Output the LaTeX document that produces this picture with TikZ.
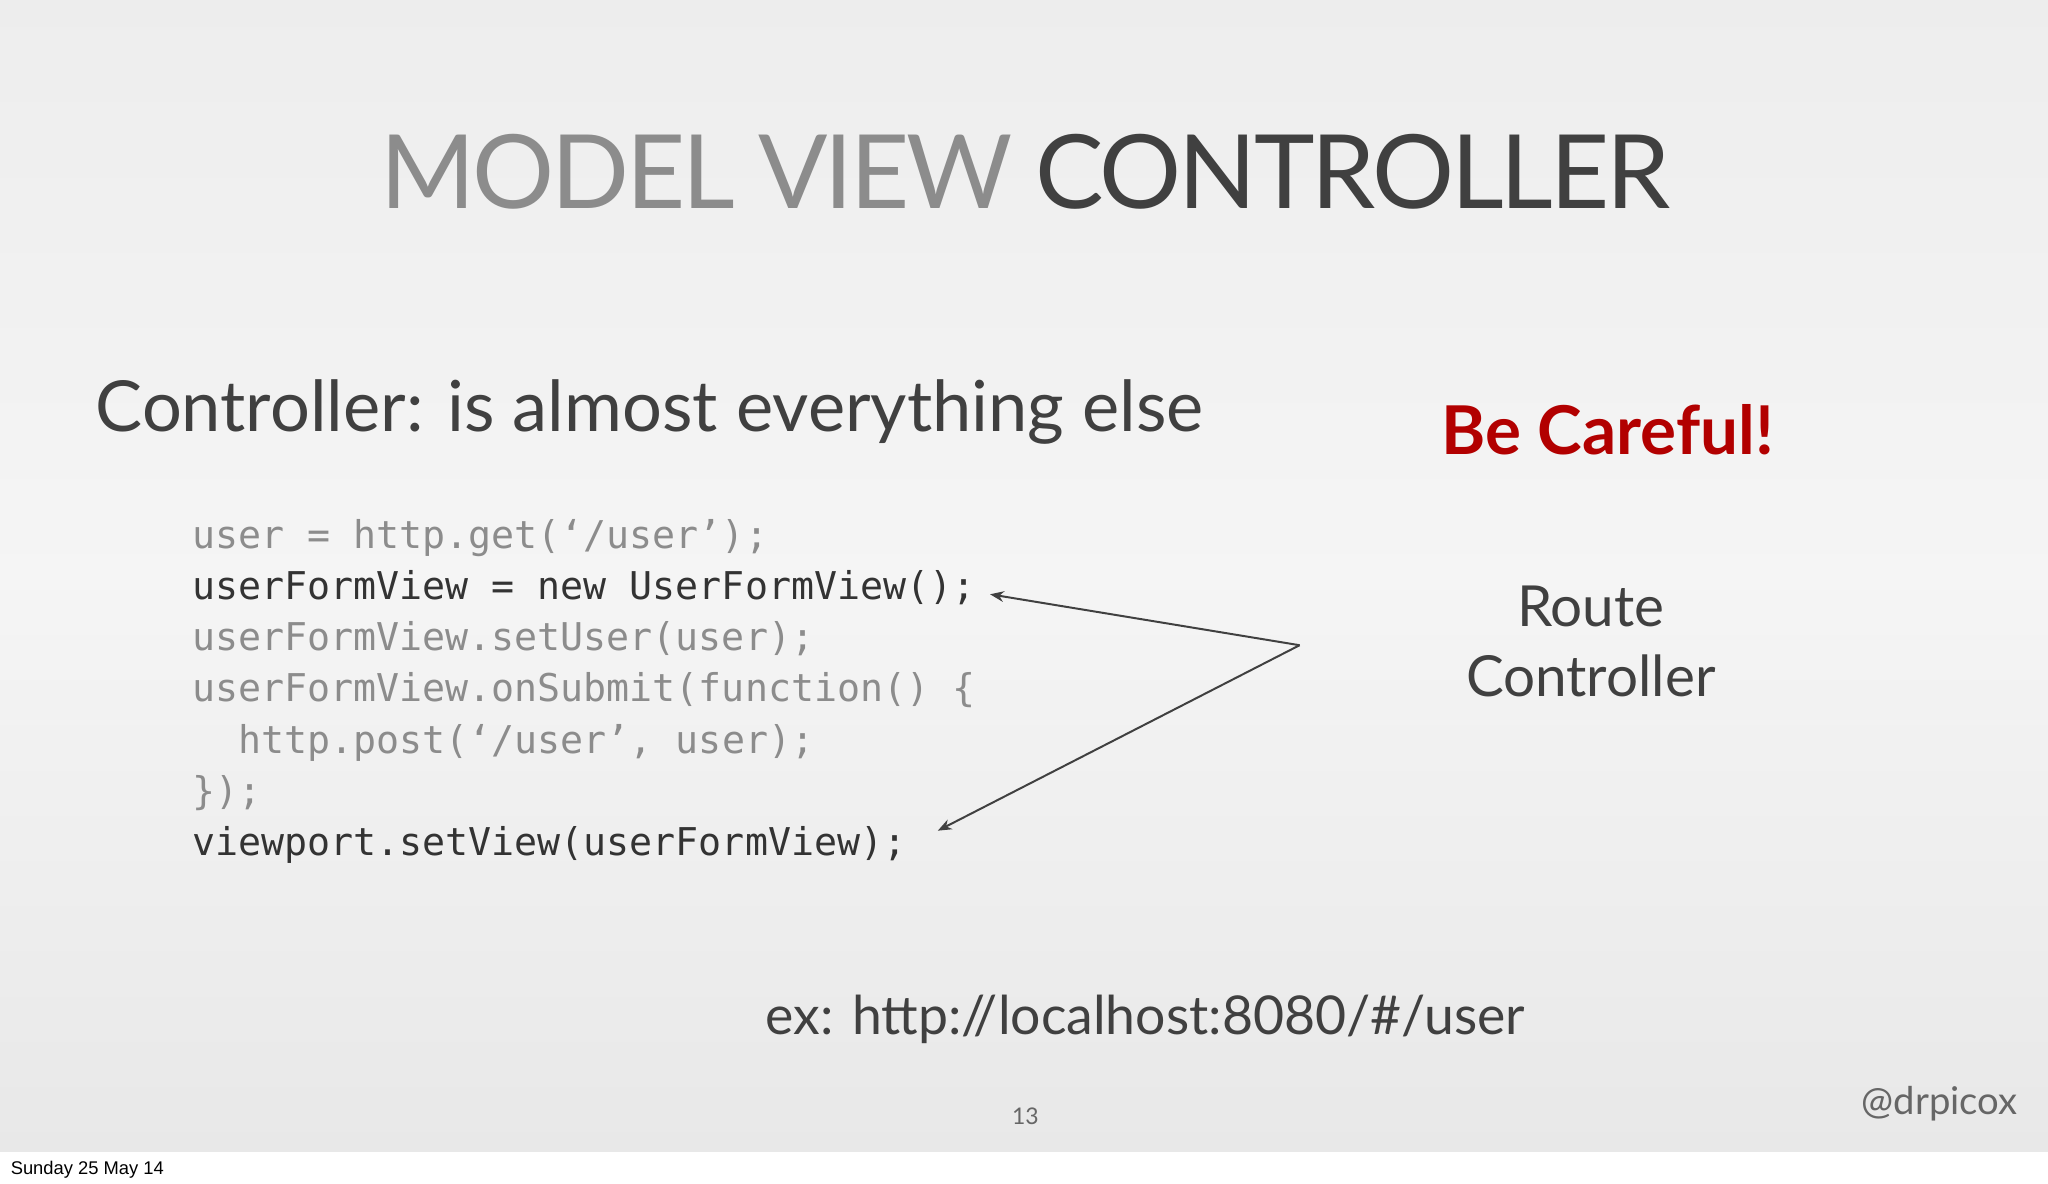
\documentclass[tikz,border=0pt]{standalone}
\usepackage{fontspec}
\setmainfont{Lato}
\setmonofont{DejaVu Sans Mono}
\newfontfamily\datefont{Liberation Sans}
\usetikzlibrary{arrows.meta}
\begin{document}
\begin{tikzpicture}[x=0.03cm,y=-0.03cm,
  code/.style={anchor=base west,inner sep=0,font=\fontsize{25}{28}\selectfont\ttfamily},
  lt/.style={text=black!45},
  dk/.style={text=black!80},
  arr/.style={draw=black!75,line width=1.3pt,-{Stealth[length=9pt,width=7pt]}}]
\fill[top color=black!7,bottom color=black!9,middle color=black!4] (0,0) rectangle (1568,882);
\fill[white] (0,882) rectangle (1568,906);
\useasboundingbox (0,0) rectangle (1568,906);
\node[anchor=base,inner sep=0,font=\fontsize{67}{80}\selectfont\addfontfeature{LetterSpace=-3}] (title) at (785,160) {\textcolor{black!45}{MODEL VIEW} \textcolor{black!75}{CONTROLLER}};
\node[anchor=base west,inner sep=0,text=black!75,font=\fontsize{46}{56}\selectfont] (sub) at (73,330) {Controller: is almost everything else};
\node[code,lt] (c1) at (147,420) {user = http.get(‘/user’);};
\node[code,dk] (c2) at (147,459) {userFormView = new UserFormView();};
\node[code,lt] (c3) at (147,498) {userFormView.setUser(user);};
\node[code,lt] (c4) at (147,537) {userFormView.onSubmit(function() \{};
\node[code,lt] (c5) at (147,577) {\ \ http.post(‘/user’, user);};
\node[code,lt] (c6) at (147,616) {\});};
\node[code,dk] (c7) at (147,655) {viewport.setView(userFormView);};
\coordinate (p) at (995,494);
\coordinate (t1) at (758,455);
\coordinate (t2) at (718,636);
\draw[arr] (p) -- (t1);
\draw[arr] (p) -- (t2);
\node[anchor=base,inner sep=0,text=red!70!black,font=\fontsize{44}{50}\selectfont\bfseries] (bc) at (1231,348) {Be Careful!};
\node[align=center,text=black!75,font=\fontsize{37}{46}\selectfont] (rc) at (1218,491) {Route\\Controller};
\node[anchor=base,inner sep=0,text=black!75,font=\fontsize{35}{44}\selectfont] (ex) at (877,792) {ex: http://localhost:8080/\#/user};
\node[anchor=base,inner sep=0,text=black!60,font=\fontsize{15}{18}\selectfont] (pg) at (785,861) {13};
\node[anchor=base east,inner sep=0,text=black!60,font=\fontsize{25}{30}\selectfont] (at) at (1545,853) {@drpicox};
\node[anchor=base west,inner sep=0,font=\fontsize{12}{14}\selectfont\datefont] (date) at (8,899) {Sunday 25 May 14};
\end{tikzpicture}
\end{document}
